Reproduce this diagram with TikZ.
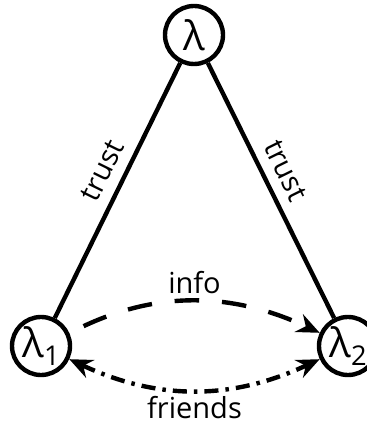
\documentclass[tikz,border=0pt]{standalone}
\usepackage{fontspec}
\setmainfont{Open Sans}
\usetikzlibrary{arrows.meta}
\newcommand{\lamsub}[1]{\raisebox{-0.22em}{\fontsize{15.5}{15.5}\selectfont #1}}
\begin{document}
\begin{tikzpicture}[
   >={Stealth[length=13pt,width=11pt]},
   agent/.style={draw,circle,line width=2.5pt,inner sep=0pt,minimum size=1.16cm,
      font=\fontsize{23}{25}\selectfont},
   tie/.style={line width=2.5pt},
   lbl/.style={font=\fontsize{16.5}{19}\selectfont}]
   \useasboundingbox (0,0) rectangle (7.32,8.48);

   \node[agent] (lam) at (3.88,7.78) {λ};
   \node[agent] (lamA) at (0.82,1.56) {λ\lamsub{1}};
   \node[agent] (lamB) at (6.96,1.56) {λ\lamsub{2}};

   \draw[tie] (lamA) -- node[lbl,sloped,above=2.5pt,pos=.54]{trust} (lam);
   \draw[tie] (lam) -- node[lbl,sloped,above=2.5pt,pos=.46]{trust} (lamB);

   \draw[tie,->,dash pattern=on 14pt off 13pt,shorten <=9pt]
   (lamA) to[bend left=25] node[lbl,above=0pt]{info} (lamB);
   \draw[tie,<->,dash pattern=on 8pt off 4pt on 2pt off 4pt]
   (lamA) to[bend right=25] node[lbl,below=-1pt]{friends} (lamB);
\end{tikzpicture}
\end{document}
